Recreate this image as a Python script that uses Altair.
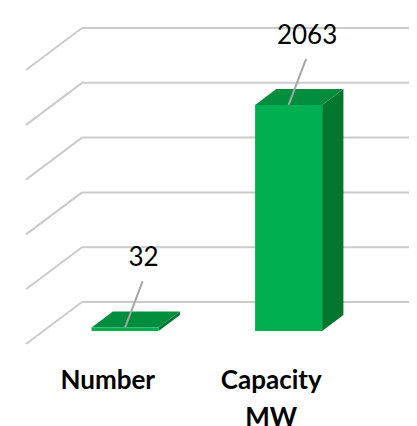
import altair as alt
import pandas as pd

# ---- data ----
categories = ["Number", "Capacity MW"]
cat_lines = [["Number"], ["Capacity", "MW"]]
values = [32, 2063]
grid_values = [0, 500, 1000, 1500, 2000, 2500]

# ---- projection / layout constants ----
PX_PER_CAT = 163.5            # pixels per category band
K = 316 / 2883.6              # pixels per value unit
DX = 56 / PX_PER_CAT          # x shift of full depth (category units)
DY = 42 / K                   # y shift of full depth (value units)
D1, D2 = 0.31, 0.69           # bar depth span
B0, B1 = 0.295, 0.705         # bar span inside band
W, H = 401, 418
OX, OY = 18, 336              # origin pixel inside the plot
x_dom = [-OX / PX_PER_CAT, (W - OX) / PX_PER_CAT]
y_dom = [-(H - OY) / K, OY / K]

xs = alt.Scale(domain=x_dom, nice=False, zero=False)
ys = alt.Scale(domain=y_dom, nice=False, zero=False)
X = lambda f: alt.X(f, type="quantitative", scale=xs, axis=None)
Y = lambda f: alt.Y(f, type="quantitative", scale=ys, axis=None)

GRID = "#CBCBCB"
FRONT = "#00B050"
TOP = "#008D3D"
SIDE = "#00772F"

# gridlines
grid_df = pd.DataFrame({"v": grid_values})
back = alt.Chart(grid_df).mark_rule(color=GRID, strokeWidth=2).encode(
    x=alt.datum(DX, type="quantitative", scale=xs, axis=None),
    x2=alt.datum(2 + DX),
    y=Y("yb:Q"),
    y2="yb:Q",
).transform_calculate(yb=f"datum.v + {DY}")
diag = alt.Chart(grid_df).mark_rule(color=GRID, strokeWidth=2).encode(
    x=alt.datum(0, type="quantitative", scale=xs, axis=None),
    x2=alt.datum(DX),
    y=Y("v:Q"),
    y2="yb:Q",
).transform_calculate(yb=f"datum.v + {DY}")

# bars
front_rows, top_rows, side_rows, lab_rows = [], [], [], []
for i, (c, v) in enumerate(zip(categories, values)):
    x0, x1 = i + B0, i + B1
    front_rows.append({"c": c, "x": x0 + D1 * DX, "x2": x1 + D1 * DX,
                       "y": D1 * DY, "y2": v + D1 * DY})
    for d in (D1, D2):
        top_rows.append({"c": c, "y": v + d * DY, "x": x0 + d * DX, "x2": x1 + d * DX})
        side_rows.append({"c": c, "x": x1 + d * DX, "y": d * DY, "y2": v + d * DY})
    ax = i + 0.5 + D1 * DX
    ay = v + D1 * DY
    lab_rows.append({"c": c, "t": str(v), "x": ax, "y": ay,
                     "lx": ax + 17.5 / PX_PER_CAT, "ly": ay + 46 / K,
                     "cx": i + 0.5, "cy": 0, "cl": cat_lines[i]})

front_df = pd.DataFrame(front_rows)
top_df = pd.DataFrame(top_rows)
side_df = pd.DataFrame(side_rows)
lab_df = pd.DataFrame(lab_rows)

front = alt.Chart(front_df).mark_rect(color=FRONT).encode(
    x=X("x"), x2="x2", y=Y("y"), y2="y2")
top = alt.Chart(top_df).mark_area(color=TOP, orient="horizontal").encode(
    y=Y("y"), x=X("x"), x2="x2", detail="c:N")
side = alt.Chart(side_df).mark_area(color=SIDE, orient="vertical").encode(
    x=X("x"), y=Y("y"), y2="y2", detail="c:N")

leader = alt.Chart(lab_df).mark_rule(color="#A6A6A6", strokeWidth=2).encode(
    x=X("x"), y=Y("y"), x2="lx", y2="ly")
vlabel = alt.Chart(lab_df).mark_text(
    font="Lato", fontSize=26, color="#000000", baseline="alphabetic", dy=-15, dx=1
).encode(x=X("lx"), y=Y("ly"), text="t:N")
clabel = alt.Chart(lab_df).mark_text(
    font="Lato", fontSize=26, fontWeight="bold", color="#000000",
    baseline="alphabetic", dy=45, lineHeight=37
).encode(x=X("cx"), y=Y("cy"), text="cl")

chart = alt.layer(back, diag, side, top, front, leader, vlabel, clabel).properties(
    width=W, height=H, padding=0, autosize=alt.AutoSizeParams(type="none"),
    background="white",
).configure_view(stroke=None)

chart.save("out.html", embed_options={"renderer": "svg", "actions": False})
